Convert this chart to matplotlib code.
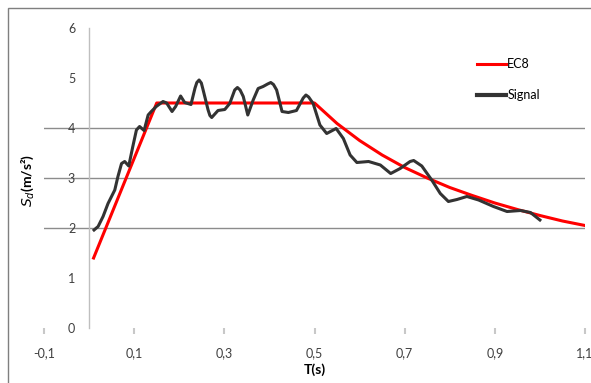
import matplotlib.pyplot as plt
from matplotlib.patches import Rectangle

# EC8 design spectrum
ec8_T = [0.01, 0.15, 0.50, 0.55, 0.60, 0.65, 0.70, 0.75, 0.80, 0.85, 0.90, 0.95, 1.00, 1.05, 1.10]
ec8_Sd = [1.40, 4.50, 4.50, 4.09, 3.75, 3.46, 3.21, 3.00, 2.81, 2.65, 2.50, 2.37, 2.25, 2.14, 2.05]

# signal spectrum
sig_T = [0.011, 0.020, 0.031, 0.042, 0.057, 0.064, 0.072, 0.079, 0.088, 0.097, 0.105, 0.112,
         0.122, 0.131, 0.138, 0.149, 0.164, 0.172, 0.184, 0.192, 0.203, 0.212, 0.226, 0.235,
         0.239, 0.244, 0.249, 0.253, 0.264, 0.268, 0.272, 0.278, 0.286, 0.301, 0.312, 0.323,
         0.329, 0.335, 0.342, 0.352, 0.364, 0.375, 0.386, 0.396, 0.403, 0.409, 0.416, 0.428,
         0.442, 0.460, 0.475, 0.481, 0.487, 0.497, 0.512, 0.527, 0.548, 0.564,
         0.579, 0.594, 0.620, 0.646, 0.669, 0.690, 0.712, 0.720, 0.738, 0.760, 0.779, 0.797,
         0.816, 0.838, 0.864, 0.897, 0.927, 0.957, 0.979, 1.000]
sig_Sd = [1.96, 2.03, 2.23, 2.49, 2.76, 3.03, 3.29, 3.33, 3.24, 3.63, 3.96, 4.03,
          3.95, 4.26, 4.33, 4.43, 4.53, 4.50, 4.33, 4.43, 4.64, 4.51, 4.47, 4.80,
          4.91, 4.96, 4.90, 4.76, 4.36, 4.25, 4.21, 4.27, 4.35, 4.37, 4.49, 4.76,
          4.81, 4.76, 4.63, 4.26, 4.56, 4.79, 4.83, 4.88, 4.91, 4.87, 4.76, 4.33,
          4.31, 4.35, 4.60, 4.66, 4.62, 4.49, 4.06, 3.89, 3.99, 3.79,
          3.46, 3.31, 3.33, 3.26, 3.09, 3.19, 3.33, 3.35, 3.24, 2.96, 2.69, 2.53,
          2.57, 2.63, 2.56, 2.43, 2.33, 2.35, 2.31, 2.16]

x_ticks = [-0.1, 0.1, 0.3, 0.5, 0.7, 0.9, 1.1]
y_ticks = [0, 1, 2, 3, 4, 5, 6]
grid_y = [2, 3, 4]

plt.rcParams['font.family'] = ['Lato', 'DejaVu Sans']

fig = plt.figure(figsize=(5.91, 3.83), dpi=100)
ax = fig.add_axes([44 / 591, 1 - 328 / 383, (585 - 44) / 591, 300 / 383])

# chart frame
fig.patches.append(Rectangle((8 / 591, -0.01), 1.0, 1 - 8 / 383 + 0.01, transform=fig.transFigure,
                             fill=False, edgecolor='#7f7f7f', linewidth=1))

for g in grid_y:
    ax.axhline(g, color='#8c8c8c', linewidth=1, zorder=1)

ax.plot(ec8_T, ec8_Sd, color='#ff0000', linewidth=2.2, label='EC8', zorder=3)
ax.plot(sig_T, sig_Sd, color='#333333', linewidth=2.2, label='Signal',
        solid_joinstyle='round', zorder=4)

ax.set_xlim(-0.1, 1.1)
ax.set_ylim(0, 6)

for s in ['top', 'right', 'bottom']:
    ax.spines[s].set_visible(False)
ax.spines['left'].set_position(('data', 0))
ax.spines['left'].set_color('#bfbfbf')
ax.spines['left'].set_linewidth(1)

ax.set_xticks(x_ticks)
ax.set_xticklabels([('%.1f' % t).replace('.', ',') for t in x_ticks])
ax.set_yticks(y_ticks)
ax.tick_params(axis='x', direction='out', length=4, width=1.5, color='#c8c8c8',
               labelsize=9, labelcolor='#404040', pad=10)
ax.tick_params(axis='y', length=0, labelsize=9, labelcolor='#404040', pad=10)

ax.set_xlabel('T(s)', fontweight='bold', fontsize=10, labelpad=3)
fig.text(28 / 591, 1 - 180 / 383, r'$S_d$(m/s²)', rotation=90, fontweight='bold',
         fontsize=10, ha='center', va='center')

leg = ax.legend(loc='upper left', bbox_to_anchor=(466 / 591, 1 - 47 / 383),
                bbox_transform=fig.transFigure, frameon=False, fontsize=9,
                handlelength=2.3, handletextpad=0.1, labelspacing=1.5)
leg.get_lines()[1].set_linewidth(3)

fig.savefig('out.png', dpi=100)
